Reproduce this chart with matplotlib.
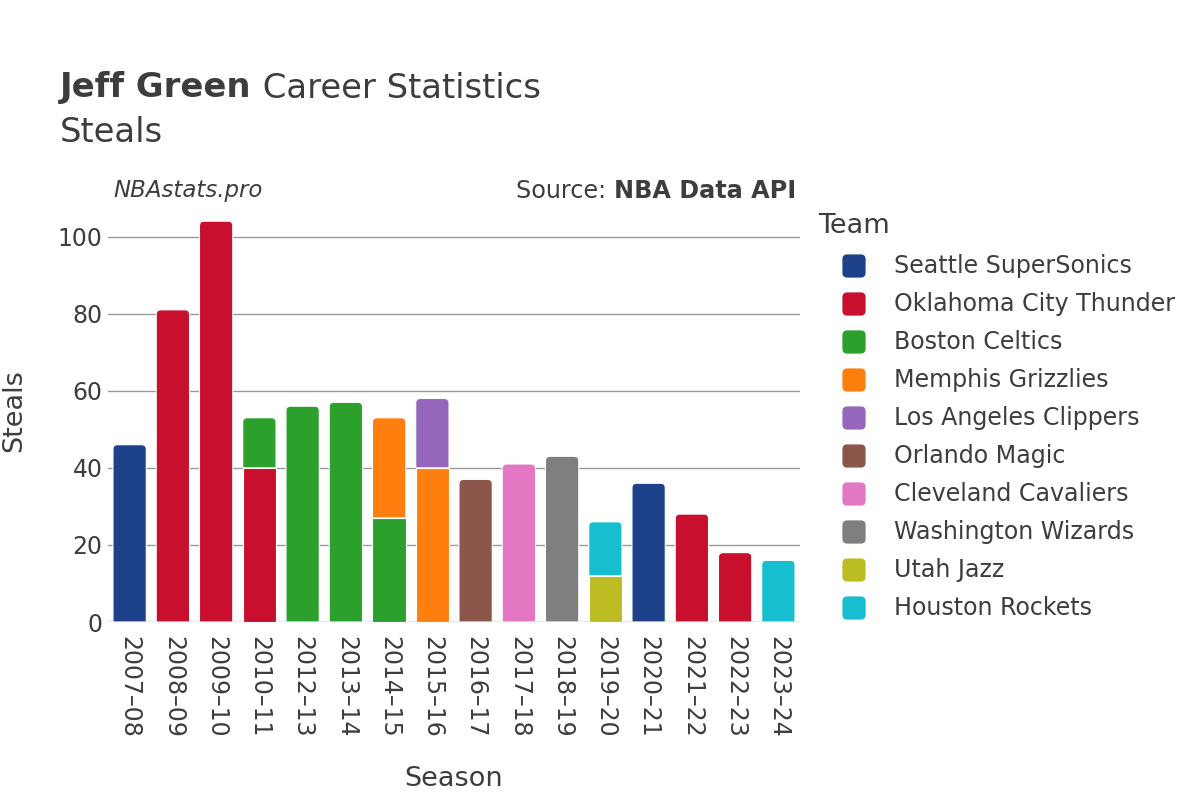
import numpy as np
import matplotlib
matplotlib.use("Agg")
import matplotlib.pyplot as plt
from matplotlib.path import Path
from matplotlib.patches import PathPatch, FancyBboxPatch

plt.rcParams['font.family'] = ['DejaVu Sans']

seasons = ['2007–08', '2008–09', '2009–10', '2010–11', '2012–13', '2013–14',
           '2014–15', '2015–16', '2016–17', '2017–18', '2018–19', '2019–20',
           '2020–21', '2021–22', '2022–23', '2023–24']

teams = ['Seattle SuperSonics', 'Oklahoma City Thunder', 'Boston Celtics',
         'Memphis Grizzlies', 'Los Angeles Clippers', 'Orlando Magic',
         'Cleveland Cavaliers', 'Washington Wizards', 'Utah Jazz',
         'Houston Rockets']

colors = ['#1d428a', '#c8102e', '#2ca02c', '#ff7f0e', '#9467bd',
          '#8c564b', '#e377c2', '#7f7f7f', '#bcbd22', '#17becf']

# steals per season for each team (0 = did not play there)
sea = [46, 0, 0, 0, 0, 0, 0, 0, 0, 0, 0, 0, 36, 0, 0, 0]
okc = [0, 81, 104, 40, 0, 0, 0, 0, 0, 0, 0, 0, 0, 28, 18, 0]
bos = [0, 0, 0, 13, 56, 57, 27, 0, 0, 0, 0, 0, 0, 0, 0, 0]
mem = [0, 0, 0, 0, 0, 0, 26, 40, 0, 0, 0, 0, 0, 0, 0, 0]
lac = [0, 0, 0, 0, 0, 0, 0, 18, 0, 0, 0, 0, 0, 0, 0, 0]
orl = [0, 0, 0, 0, 0, 0, 0, 0, 37, 0, 0, 0, 0, 0, 0, 0]
cle = [0, 0, 0, 0, 0, 0, 0, 0, 0, 41, 0, 0, 0, 0, 0, 0]
was = [0, 0, 0, 0, 0, 0, 0, 0, 0, 0, 43, 0, 0, 0, 0, 0]
uta = [0, 0, 0, 0, 0, 0, 0, 0, 0, 0, 0, 12, 0, 0, 0, 0]
hou = [0, 0, 0, 0, 0, 0, 0, 0, 0, 0, 0, 14, 0, 0, 0, 16]

values = [sea, okc, bos, mem, lac, orl, cle, was, uta, hou]

txt = '#3d3d3d'
W, H = 1200, 800
fig = plt.figure(figsize=(12, 8), dpi=100)
ax = fig.add_axes([108 / W, 178 / H, 692 / W, 422 / H])

x = np.arange(len(seasons))
width = 0.77
ymax = 109.5
ax.set_xlim(-0.5, len(seasons) - 0.5)
ax.set_ylim(0, ymax)

# radius of rounded tops, in pixels converted to data units
px_x = 692 / len(seasons)
px_y = 422 / ymax
rx = 4.5 / px_x
ry = 4.5 / px_y


def rounded_top(x0, x1, y0, y1):
    verts = [(x0, y0), (x1, y0), (x1, y1 - ry), (x1, y1), (x1 - rx, y1),
             (x0 + rx, y1), (x0, y1), (x0, y1 - ry), (x0, y0)]
    codes = [Path.MOVETO, Path.LINETO, Path.LINETO, Path.CURVE3, Path.CURVE3,
             Path.LINETO, Path.CURVE3, Path.CURVE3, Path.CLOSEPOLY]
    return Path(verts, codes)


totals = np.sum(np.array(values), axis=0)
bottom = np.zeros(len(seasons))
for team, vals, c in zip(teams, values, colors):
    vals = np.array(vals, dtype=float)
    for i in range(len(seasons)):
        if vals[i] <= 0:
            continue
        y0 = bottom[i]
        y1 = bottom[i] + vals[i]
        x0 = x[i] - width / 2
        x1 = x[i] + width / 2
        if y1 >= totals[i]:
            p = PathPatch(rounded_top(x0, x1, y0, y1), facecolor=c,
                          edgecolor='white', lw=0.8, zorder=3)
            ax.add_patch(p)
        else:
            ax.bar(x[i], vals[i], width, bottom=y0, color=c,
                   edgecolor='white', lw=0.8, zorder=3)
    bottom += vals

ax.set_yticks([0, 20, 40, 60, 80, 100])
ax.yaxis.grid(True, color='#999999', lw=1)
ax.set_axisbelow(True)
ax.axhline(0, color='#e8e8e8', lw=2.5, zorder=2)
for s in ax.spines.values():
    s.set_visible(False)
ax.tick_params(length=0, labelsize=17, colors=txt)
ax.tick_params(axis='y', pad=4)
ax.tick_params(axis='x', pad=10)
ax.set_xticks(x)
ax.set_xticklabels(seasons, rotation=-90)
ax.set_xlabel('Season', fontsize=19.5, color=txt, labelpad=20)
ax.set_ylabel('Steals', fontsize=19.5, color=txt, labelpad=22)

# titles
t1 = fig.text(60 / W, 1 - 88 / H, 'Jeff Green', fontsize=24.4, color=txt,
              fontweight='bold', va='center')
fig.canvas.draw()
bb = t1.get_window_extent()
fig.text(bb.x1 / W, 1 - 88 / H, ' Career Statistics', fontsize=24.4,
         color=txt, va='center')
fig.text(60 / W, 1 - 132 / H, 'Steals', fontsize=24.4, color=txt,
         va='center')

fig.text(113 / W, 1 - 191 / H, 'NBAstats.pro', fontsize=16.5, color=txt,
         style='italic', va='center')
t2 = fig.text(796 / W, 1 - 191 / H, 'NBA Data API', fontsize=17.2,
              color=txt, fontweight='bold', va='center', ha='right')
fig.canvas.draw()
bb2 = t2.get_window_extent()
fig.text(bb2.x0 / W, 1 - 191 / H, 'Source: ', fontsize=17.2, color=txt,
         va='center', ha='right')

# legend
fig.text(818 / W, 1 - 226 / H, 'Team', fontsize=19.5, color=txt,
         va='center')
for k, (team, c) in enumerate(zip(teams, colors)):
    yc = 266 + 38 * k
    box = FancyBboxPatch(((843 + 3) / W, 1 - (yc + 8) / H), 16 / W, 16 / H,
                         boxstyle='round,pad=0.003,rounding_size=0.004',
                         mutation_aspect=W / H, transform=fig.transFigure,
                         facecolor=c, edgecolor='none')
    fig.patches.append(box)
    fig.text(894 / W, 1 - yc / H, team, fontsize=17.1, color=txt,
             va='center')

fig.savefig('out.png', dpi=100)
